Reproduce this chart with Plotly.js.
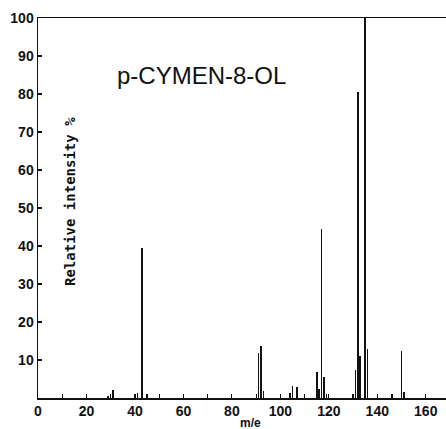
<!DOCTYPE html>
<html><head><meta charset="utf-8">
<script src="https://cdn.plot.ly/plotly-3.0.1.min.js"></script>
<style>html,body{margin:0;padding:0;overflow:hidden;background:#fff}</style>
</head><body>
<div id="chart" style="width:452px;height:429px"></div>
<script>
const mz = [29, 31, 41, 43, 45, 91, 92, 93, 104, 105, 107, 115, 116, 117, 118, 119, 131, 132, 133, 135, 136, 146, 150, 151];
const intensity = [0.5, 2, 1.4, 39.5, 1, 11.8, 13.8, 1.8, 1.2, 3.2, 3, 6.8, 2.3, 44.5, 5.6, 1, 7.5, 80.5, 11, 100, 12.8, 1, 12.4, 1.5];
const xTicks = [0, 20, 40, 60, 80, 100, 120, 140, 160];
const yTicks = [10, 20, 30, 40, 50, 60, 70, 80, 90, 100];
const compoundName = 'p-CYMEN-8-OL';
const yTitle = 'Relative intensity %';
const xTitle = 'm/e';

const tickFont = {family: 'Liberation Sans, Arial, sans-serif', size: 14, color: '#111', weight: 'bold'};
const trace = {
  type: 'bar', x: mz, y: intensity, width: 0.7,
  marker: {color: '#111', line: {width: 0}}, hoverinfo: 'x+y'
};
const layout = {
  width: 452, height: 429,
  margin: {l: 38, r: 2, t: 18, b: 31},
  paper_bgcolor: '#fff', plot_bgcolor: '#fff',
  showlegend: false, bargap: 0,
  xaxis: {
    range: [0, 170], tickvals: xTicks, ticktext: xTicks.map(String),
    ticks: 'inside', ticklen: 4, tickwidth: 1.2, tickcolor: '#111',
    minor: {dtick: 10, tick0: 0, ticks: 'inside', ticklen: 4, tickcolor: '#111', tickwidth: 1.2},
    showline: true, linecolor: '#111', linewidth: 1.5, mirror: true,
    showgrid: false, zeroline: false, tickfont: tickFont
  },
  yaxis: {
    range: [0, 100], tickvals: yTicks, ticktext: yTicks.map(String),
    ticks: 'inside', ticklen: 4, tickwidth: 1.2, tickcolor: '#111',
    showline: true, linecolor: '#111', linewidth: 1.5, mirror: 'ticks',
    showgrid: false, zeroline: false, tickfont: tickFont
  },
  annotations: [
    {text: compoundName, xref: 'paper', yref: 'paper', x: (201 - 38) / 412, y: (429 - 31 - 75) / 380,
     xanchor: 'center', yanchor: 'middle', showarrow: false,
     font: {family: 'Liberation Sans, Arial, sans-serif', size: 24, color: '#111'}},
    {text: yTitle, xref: 'paper', yref: 'paper', x: (70 - 38) / 412, y: (429 - 31 - 202) / 380,
     xanchor: 'center', yanchor: 'middle', showarrow: false, textangle: -90,
     font: {family: 'DejaVu Sans Mono, monospace', size: 14, color: '#111', weight: 'bold'}},
    {text: xTitle, xref: 'paper', yref: 'paper', x: (250 - 38) / 412, y: -(423 - 398) / 380,
     xanchor: 'center', yanchor: 'middle', showarrow: false,
     font: {family: 'Liberation Sans, Arial, sans-serif', size: 12, color: '#111', weight: 'bold'}}
  ]
};
Plotly.newPlot('chart', [trace], layout, {staticPlot: true, displayModeBar: false});
</script>
</body></html>
